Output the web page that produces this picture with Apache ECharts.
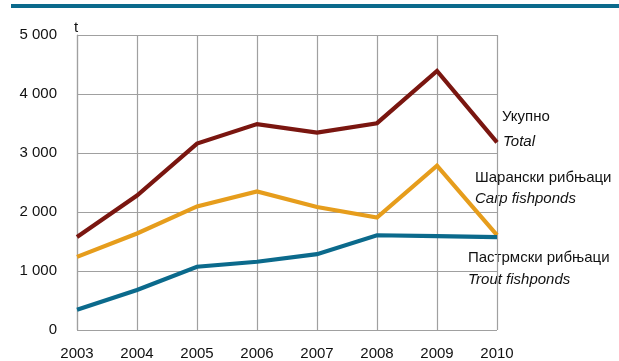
<!DOCTYPE html>
<html>
<head>
<meta charset="utf-8">
<script src="https://cdn.jsdelivr.net/npm/echarts@6/dist/echarts.min.js"></script>
<style>
  html, body { margin: 0; padding: 0; background: #fff; }
  #chart { width: 619px; height: 361px; }
</style>
</head>
<body>
<div id="chart"></div>
<script>
// Fishpond production, tonnes
const years = ['2003', '2004', '2005', '2006', '2007', '2008', '2009', '2010'];
const totalValues = [1575, 2280, 3160, 3490, 3345, 3505, 4390, 3180];
const carpValues  = [1240, 1635, 2095, 2350, 2085, 1905, 2785, 1610];
const troutValues = [345, 678, 1073, 1157, 1285, 1606, 1590, 1575];
const yTicks = [0, 1000, 2000, 3000, 4000, 5000];

const FONT = '"Liberation Sans", Arial, sans-serif';
const chart = echarts.init(document.getElementById('chart'), null, { renderer: 'canvas' });

function fmt(v) {
  return v === 0 ? '0' : String(v).replace(/\B(?=(\d{3})+(?!\d))/g, ' ');
}

function lineSeries(name, data, color) {
  return {
    name, type: 'line', data,
    symbol: 'none',
    lineStyle: { color, width: 4.2, join: 'miter' },
    itemStyle: { color },
    z: 3
  };
}

chart.setOption({
  animation: false,
  grid: { left: 77, right: 122, top: 35, bottom: 31 },
  xAxis: {
    type: 'category',
    data: years,
    boundaryGap: false,
    axisLine: { show: false },
    axisTick: { show: false },
    splitLine: { show: true, lineStyle: { color: '#a0a0a0', width: 1.2 } },
    axisLabel: { color: '#111', fontFamily: FONT, fontSize: 15, margin: 16 }
  },
  yAxis: {
    type: 'value',
    min: yTicks[0], max: yTicks[yTicks.length - 1], interval: 1000,
    name: 't',
    nameLocation: 'end',
    nameGap: 0,
    nameTextStyle: { color: '#111', fontFamily: FONT, fontSize: 15, align: 'left', padding: [0, 0, 0, -3] },
    axisLine: { show: true, lineStyle: { color: '#a0a0a0', width: 1.2 } },
    axisTick: { show: false },
    splitLine: { show: true, lineStyle: { color: '#a0a0a0', width: 1.2 } },
    axisLabel: { color: '#111', fontFamily: FONT, fontSize: 15, margin: 20, formatter: fmt }
  },
  series: [
    lineSeries('Total', totalValues, '#7a1610'),
    lineSeries('Carp', carpValues, '#e69d1c'),
    lineSeries('Trout', troutValues, '#0b6a8c')
  ],
  graphic: [
    { type: 'rect', shape: { x: 11, y: 4, width: 608, height: 4 }, style: { fill: '#0b6a8c' } },
    { type: 'text', left: 502, top: 109, style: { text: 'Укупно', font: '15px ' + FONT, fill: '#111' } },
    { type: 'text', left: 503, top: 134, style: { text: 'Total', font: 'italic 15px ' + FONT, fill: '#111' } },
    { type: 'text', left: 475, top: 170, style: { text: 'Шарански рибњаци', font: '15px ' + FONT, fill: '#111' } },
    { type: 'text', left: 475, top: 191, style: { text: 'Carp fishponds', font: 'italic 15px ' + FONT, fill: '#111' } },
    { type: 'text', left: 468, top: 250, style: { text: 'Пастрмски рибњаци', font: '15px ' + FONT, fill: '#111' } },
    { type: 'text', left: 468, top: 272, style: { text: 'Trout fishponds', font: 'italic 15px ' + FONT, fill: '#111' } }
  ]
});
</script>
</body>
</html>
